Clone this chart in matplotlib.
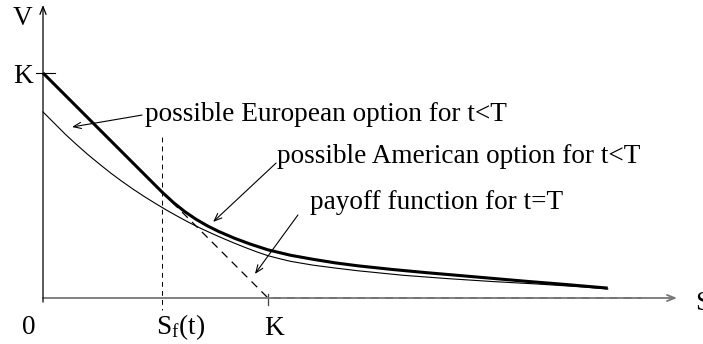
import matplotlib
matplotlib.use("Agg")
from matplotlib import pyplot as plt

plt.rcParams['font.family'] = 'Liberation Serif'
plt.rcParams['mathtext.fontset'] = 'custom'
plt.rcParams['mathtext.rm'] = 'Liberation Serif'
plt.rcParams['mathtext.it'] = 'Liberation Serif'
plt.rcParams['lines.scale_dashes'] = False

# everything measured in units of the strike K
S_F = 0.53

# American option value (thick), payoff line up to S_f then a smooth curve
american_s = [0, 0.53, 0.58, 0.63, 0.68, 0.73, 0.78, 0.85, 0.92, 1.0, 1.1, 1.2,
              1.3, 1.4, 1.55, 1.7, 1.85, 2.0, 2.15, 2.3, 2.51]
american_v = [1.0, 0.470, 0.424, 0.384, 0.350, 0.321, 0.296, 0.266, 0.240, 0.214,
              0.190, 0.172, 0.156, 0.143, 0.127, 0.113, 0.100, 0.087, 0.074, 0.062,
              0.044]

# European option value (thin)
european_s = [0, 0.05, 0.1, 0.15, 0.2, 0.25, 0.3, 0.35, 0.4, 0.45, 0.5, 0.55, 0.6,
              0.65, 0.7, 0.75, 0.8, 0.85, 0.9, 0.95, 1.0, 1.05, 1.1, 1.2, 1.3, 1.4,
              1.6, 1.8, 2.0, 2.2, 2.4, 2.51]
european_v = [0.827, 0.777, 0.727, 0.681, 0.637, 0.596, 0.556, 0.519, 0.484, 0.451,
              0.420, 0.390, 0.362, 0.335, 0.310, 0.287, 0.265, 0.244, 0.224, 0.205,
              0.188, 0.175, 0.163, 0.146, 0.133, 0.121, 0.101, 0.086, 0.073, 0.062,
              0.049, 0.040]

# payoff max(K - S, 0), dashed part only
payoff_s = [S_F, 1.0, 2.66]
payoff_v = [1 - S_F, 0.0, 0.0]

LABEL_SIZE = 19.6


def arrow(ax, tail, head, color='black', lw=0.8):
    ax.annotate('', xy=head, xytext=tail,
                arrowprops=dict(arrowstyle='->,head_length=0.55,head_width=0.22',
                                color=color, lw=lw, shrinkA=0, shrinkB=0))


def main():
    fig = plt.figure(figsize=(7.03, 3.44), dpi=100)
    ax = fig.add_axes([0, 0, 1, 1])
    ax.set_xlim(-43 / 225, 660 / 225)
    ax.set_ylim(-46 / 225, 298 / 225)
    ax.axis('off')

    # axes
    arrow(ax, (0, 0), (2.818, 0), color='#777777', lw=1.3)
    arrow(ax, (0, -0.018), (0, 1.302), color='black', lw=0.9)

    # tick marks at K
    ax.plot([-0.031, 0.053], [1.0, 1.0], color='black', lw=0.8)
    ax.plot([1.0, 1.0], [0.018, -0.031], color='#444444', lw=0.9)

    # S_f(t) marker
    ax.plot([S_F, S_F], [0.716, -0.053], color='black', lw=0.7,
            dashes=(3.5, 3))

    ax.plot(payoff_s, payoff_v, color='black', lw=0.9, dashes=(5.8, 4.3))
    ax.plot(european_s, european_v, color='black', lw=0.8)
    ax.plot(american_s, american_v, color='black', lw=2.2,
            solid_capstyle='butt', solid_joinstyle='round')

    # annotations
    ax.text(0.453, 0.788, 'possible European option for t<T', fontsize=LABEL_SIZE,
            ha='left', va='baseline')
    arrow(ax, (0.44, 0.813), (0.129, 0.76))
    ax.text(1.04, 0.60, 'possible American option for t<T', fontsize=LABEL_SIZE,
            ha='left', va='baseline')
    arrow(ax, (1.036, 0.60), (0.756, 0.338))
    ax.text(1.187, 0.396, 'payoff function for t=T', fontsize=LABEL_SIZE,
            ha='left', va='baseline')
    arrow(ax, (1.133, 0.369), (0.942, 0.107))

    # axis labels
    ax.text(-0.089, 1.213, 'V', fontsize=LABEL_SIZE, ha='center', va='baseline')
    ax.text(-0.089, 0.956, 'K', fontsize=LABEL_SIZE, ha='center', va='baseline')
    ax.text(-0.064, -0.16, '0', fontsize=LABEL_SIZE, ha='center', va='baseline')
    ax.text(0.609, -0.16, r'$\mathrm{S_f(t)}$', fontsize=LABEL_SIZE,
            ha='center', va='baseline')
    ax.text(1.027, -0.164, 'K', fontsize=LABEL_SIZE, ha='center', va='baseline')
    ax.text(2.898, -0.053, 'S', fontsize=LABEL_SIZE, ha='left', va='baseline')

    fig.savefig('out.png', dpi=100)
    plt.close(fig)


if __name__ == '__main__':
    main()
